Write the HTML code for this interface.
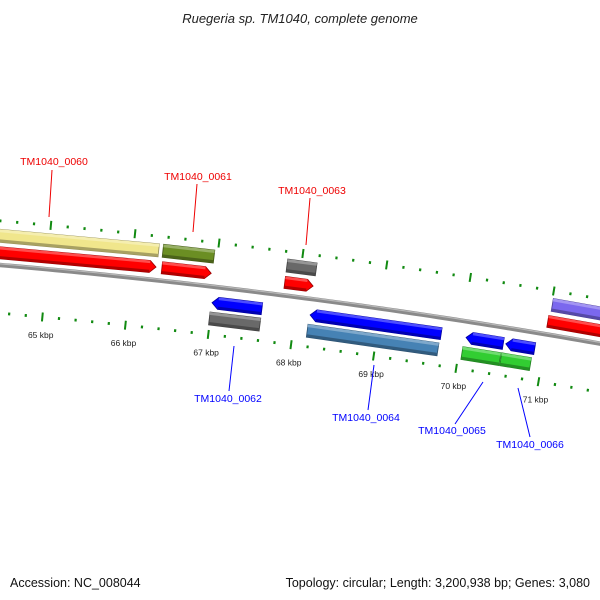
<!DOCTYPE html>
<html><head><meta charset="utf-8"><style>
html,body{margin:0;padding:0;background:#fff;}
svg{display:block;font-family:"Liberation Sans","DejaVu Sans",sans-serif;}
</style></head><body>
<svg id="map" width="600" height="600" viewBox="0 0 600 600" xmlns="http://www.w3.org/2000/svg">
<rect width="600" height="600" fill="#fff"/>
<text x="300" y="23" text-anchor="middle" font-size="13" font-style="italic" fill="#222">Ruegeria sp. TM1040, complete genome</text>
<g id="ticks"></g>
<g id="backbone"></g>
<g id="features"></g>
<g id="labels">
<line x1="52" y1="170" x2="49" y2="217" stroke="#e00" stroke-width="1"/>
<text x="54" y="165" text-anchor="middle" font-size="10.5" fill="#e00">TM1040_0060</text>
<line x1="197" y1="184" x2="193" y2="232" stroke="#e00" stroke-width="1"/>
<text x="198" y="180" text-anchor="middle" font-size="10.5" fill="#e00">TM1040_0061</text>
<line x1="310" y1="198" x2="306" y2="245" stroke="#e00" stroke-width="1"/>
<text x="312" y="194" text-anchor="middle" font-size="10.5" fill="#e00">TM1040_0063</text>
<line x1="234" y1="346" x2="229" y2="391" stroke="#00f" stroke-width="1"/>
<text x="228" y="402" text-anchor="middle" font-size="10.5" fill="#00f">TM1040_0062</text>
<line x1="374" y1="365" x2="368" y2="410" stroke="#00f" stroke-width="1"/>
<text x="366" y="421" text-anchor="middle" font-size="10.5" fill="#00f">TM1040_0064</text>
<line x1="483" y1="382" x2="455" y2="424" stroke="#00f" stroke-width="1"/>
<text x="452" y="434" text-anchor="middle" font-size="10.5" fill="#00f">TM1040_0065</text>
<line x1="518" y1="388" x2="530" y2="437" stroke="#00f" stroke-width="1"/>
<text x="530" y="448" text-anchor="middle" font-size="10.5" fill="#00f">TM1040_0066</text>
</g>
<text x="10" y="587" font-size="12.5" fill="#111">Accession: NC_008044</text>
<text x="590" y="587" text-anchor="end" font-size="12.5" fill="#111">Topology: circular; Length: 3,200,938 bp; Genes: 3,080</text>
</svg>
<script>
// data (positions in kbp)
const tickLabels = [65, 66, 67, 68, 69, 70, 71];
const cdsStart = [63.5, 66.36, 67.83, 67.00, 68.18, 70.06, 70.54, 70.99];
const cdsEnd   = [66.29, 66.95, 68.17, 67.60, 69.76, 70.51, 70.89, 72.2];
const cdsStrand = [1, 1, 1, -1, -1, -1, -1, 1];
const geneStart = [63.5, 66.35, 67.83, 66.99, 68.17, 70.04, 70.51, 71.01];
const geneEnd   = [66.30, 66.96, 68.18, 67.60, 69.75, 70.50, 70.87, 72.2];
const geneStrand = [1, 1, 1, -1, -1, -1, -1, 1];
const geneColors = ["#f0e68c", "#6b8e23", "#696969", "#696969", "#4682b4", "#32cd32", "#32cd32", "#7b68ee"];

const NS = "http://www.w3.org/2000/svg";
const R = 6760, alpha = 4.9 * Math.PI / 180;
const cx = -R * Math.sin(alpha), cy = 265 + R * Math.cos(alpha);
const pxPerKbp = 84, s65 = 47;
function pt(k, d) {
  const s = s65 + (k - 65) * pxPerKbp;
  const phi = alpha + s / R, r = R + d;
  return [cx + r * Math.sin(phi), cy - r * Math.cos(phi)];
}
function mk(tag, attrs, parent) {
  const e = document.createElementNS(NS, tag);
  for (const a in attrs) e.setAttribute(a, attrs[a]);
  parent.appendChild(e);
  return e;
}
function shade(hex, f) {
  const n = parseInt(hex.slice(1), 16);
  let r = (n >> 16) & 255, g = (n >> 8) & 255, b = n & 255;
  const c = v => Math.max(0, Math.min(255, Math.round(f < 1 ? v * f : v + (255 - v) * (f - 1))));
  return "rgb(" + c(r) + "," + c(g) + "," + c(b) + ")";
}
// backbone
const bb = document.getElementById("backbone");
function arcPts(k1, k2, d) {
  const p = [];
  for (let k = k1; k <= k2 + 1e-9; k += 0.1) p.push(pt(k, d).map(v => v.toFixed(2)).join(","));
  return p.join(" ");
}
const bbLine = mk("polyline", {points: arcPts(64.0, 72.5, 0), fill: "none", stroke: "#8a8a8a", "stroke-width": 4.5}, bb);


const bbHi = mk("polyline", {points: arcPts(64.0, 72.5, 1.2), fill: "none", stroke: "#b8b8b8", "stroke-width": 1.2}, bb);


// ticks
const tg = document.getElementById("ticks");
for (let i = 0; i <= 45; i++) {
  const k = 63.8 + i * 0.2;
  const major = Math.abs(k - Math.round(k)) < 1e-6;
  [44, -48].forEach(d => {
    const len = major ? 4.5 : 1.4;
    const a = pt(k, d - len), b = pt(k, d + len);
    const t = mk("line", {x1: a[0], y1: a[1], x2: b[0], y2: b[1], stroke: "#118a11", "stroke-width": major ? 2 : 2.2}, tg);
    
    
  });
}
tickLabels.forEach(k => {
  const p = pt(k, -66);
  const t = mk("text", {x: p[0], y: p[1] + 3, "text-anchor": "middle", "font-size": 8.5, fill: "#222"}, tg);
  t.textContent = k + " kbp";
  
  
});
// features
const fg = document.getElementById("features");
function feature(k1, k2, d, h, color, strand, arrow, name) {
  const tip = arrow ? 0.075 : 0;
  let pts;
  if (arrow && strand > 0) {
    pts = [pt(k1, d + h), pt(k2 - tip, d + h), pt(k2, d), pt(k2 - tip, d - h), pt(k1, d - h)];
  } else if (arrow && strand < 0) {
    pts = [pt(k1 + tip, d + h), pt(k2, d + h), pt(k2, d - h), pt(k1 + tip, d - h), pt(k1, d)];
  } else {
    pts = [pt(k1, d + h), pt(k2, d + h), pt(k2, d - h), pt(k1, d - h)];
  }
  const g = mk("g", {}, fg);
  
  
  const body = mk("polygon", {points: pts.map(p => p.join(",")).join(" "), fill: color, stroke: shade(color, 0.6), "stroke-width": 0.8}, g);
  
  
  // highlight band on top and shadow band at bottom
  const kA = arrow && strand < 0 ? k1 + tip : k1, kB = arrow && strand > 0 ? k2 - tip : k2;
  const hi = mk("polygon", {points: [pt(kA, d + h), pt(kB, d + h), pt(kB, d + h * 0.55), pt(kA, d + h * 0.55)].map(p => p.join(",")).join(" "), fill: shade(color, 1.3)}, g);
  
  
  const lo = mk("polygon", {points: [pt(kA, d - h * 0.55), pt(kB, d - h * 0.55), pt(kB, d - h), pt(kA, d - h)].map(p => p.join(",")).join(" "), fill: shade(color, 0.7)}, g);
  
  
}
geneStart.forEach((s, i) => {
  const d = geneStrand[i] > 0 ? 30 : -32;
  feature(s, geneEnd[i], d, 6.5, geneColors[i], geneStrand[i], false, 'gene-bar-' + i);
});
cdsStart.forEach((s, i) => {
  const d = cdsStrand[i] > 0 ? 13 : -16;
  feature(s, cdsEnd[i], d, 6, cdsStrand[i] > 0 ? "#ff0000" : "#0000ff", cdsStrand[i], true, 'cds-arrow-' + i);
});
</script>
</body></html>
